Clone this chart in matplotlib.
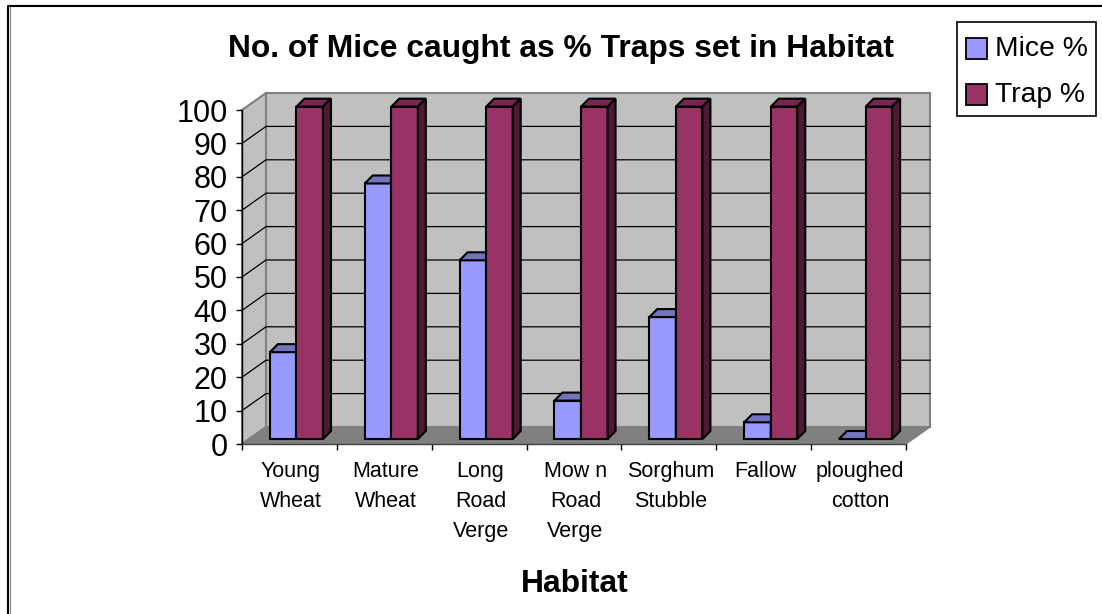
import matplotlib
matplotlib.use('Agg')
import matplotlib.pyplot as plt
from matplotlib.patches import Polygon, Rectangle
from matplotlib.transforms import IdentityTransform

plt.rcParams['font.family'] = ['Liberation Sans', 'DejaVu Sans']

habitats = ['Young\nWheat', 'Mature\nWheat', 'Long\nRoad\nVerge', 'Mow n\nRoad\nVerge',
            'Sorghum\nStubble', 'Fallow', 'ploughed\ncotton']
mice = [26, 76.5, 53.5, 11.5, 36.5, 5, 0]
trap = [99.5, 99.5, 99.5, 99.5, 99.5, 99.5, 99.5]
yticks = [0, 10, 20, 30, 40, 50, 60, 70, 80, 90, 100]

W, H = 1102, 614
BLUE, BLUE_TOP, BLUE_SIDE = '#9999ff', '#7373bf', '#4d4d80'
RED, RED_TOP, RED_SIDE = '#993366', '#732650', '#4d1a33'

fig = plt.figure(figsize=(W / 100, H / 100), dpi=100)
ax = fig.add_axes([242 / W, 1 - 444 / H, 664 / W, 334 / H])
ax.set_xlim(0, 7)
ax.set_ylim(0, 100)
ax.axis('off')


def pt(x, y, dx=0, dy=0):
    # data point pushed back in the fake 3d depth, offset in pixels
    px, py = ax.transData.transform((x, y))
    return (px + dx, py + dy)


def face(points, color, ec='black', lw=1.5, z=2):
    fig.add_artist(Polygon(points, closed=True, facecolor=color, edgecolor=ec, linewidth=lw,
                           transform=IdentityTransform(), zorder=z, joinstyle='miter'))


def bar3d(x0, x1, val, front, top, side, z):
    dx, dy = 7, 5
    d = 8
    face([pt(x0, 0, dx, dy), pt(x1, 0, dx, dy), pt(x1, val, dx, dy), pt(x0, val, dx, dy)], front, z=z)
    face([pt(x0, val, dx, dy), pt(x1, val, dx, dy), pt(x1, val, dx + d, dy + d), pt(x0, val, dx + d, dy + d)], top, z=z)
    if val > 0:
        face([pt(x1, 0, dx, dy), pt(x1, 0, dx + d, dy + d), pt(x1, val, dx + d, dy + d), pt(x1, val, dx, dy)], side, z=z)


# walls and floor
wx, wy = 24, 17
face([pt(0, 0, wx, wy), pt(7, 0, wx, wy), pt(7, 100, wx, wy), pt(0, 100, wx, wy)], '#c0c0c0', ec='#808080', lw=1.5, z=1)
face([pt(0, 0), pt(0, 0, wx, wy), pt(0, 100, wx, wy), pt(0, 100)], '#c0c0c0', ec='#808080', lw=1.5, z=1)
face([pt(0, 0), pt(7, 0), pt(7, 0, wx, wy), pt(0, 0, wx, wy)], '#808080', ec='#808080', lw=1, z=1.1)

# gridlines on both walls
for t in yticks[1:-1]:
    a, b, c = pt(0, t), pt(0, t, wx, wy), pt(7, t, wx, wy)
    fig.add_artist(plt.Line2D([a[0], b[0], c[0]], [a[1], b[1], c[1]], color='black', lw=0.9,
                              transform=IdentityTransform(), zorder=1.5))

# bars, front to back order left to right
for i in range(len(habitats)):
    bar3d(i + 0.22, i + 0.5, mice[i], BLUE, BLUE_TOP, BLUE_SIDE, 2 + i * 0.1)
    bar3d(i + 0.5, i + 0.78, trap[i], RED, RED_TOP, RED_SIDE, 2.05 + i * 0.1)

# axes lines and ticks
ax.axis('on')
ax.patch.set_visible(False)
ax.spines[['top', 'right']].set_visible(False)
ax.spines['left'].set_linewidth(1)
ax.spines['bottom'].set_linewidth(1)
ax.spines['bottom'].set_color('#404040')
ax.set_zorder(6)
ax.set_yticks(yticks)
ax.tick_params(axis='y', labelsize=22, length=4.3, width=1, pad=6)
ax.set_xticks(range(8))
ax.set_xticklabels([])
ax.tick_params(axis='x', length=4.3, width=1)
for i, lab in enumerate(habitats):
    ax.text(i + 0.515, -5.1, lab, ha='center', va='top', fontsize=15.5, linespacing=1.56)

fig.text(561.5 / W, 1 - 49 / H, 'No. of Mice caught as % Traps set in Habitat', ha='center', va='center',
         fontsize=22.9, fontweight='bold')
fig.text(575 / W, 1 - 584 / H, 'Habitat', ha='center', va='center', fontsize=22.9, fontweight='bold')

# legend box
fig.add_artist(Rectangle((957 / W, 1 - 116 / H), 139 / W, 93.5 / H, transform=fig.transFigure,
                         facecolor='white', edgecolor='black', lw=1.2))
names = ['Mice %', 'Trap %']
for name, col, yp in zip(names, [BLUE, RED], [48.5, 94.5]):
    fig.add_artist(Rectangle((966 / W, 1 - (yp + 10.5) / H), 21 / W, 21 / H, transform=fig.transFigure,
                             facecolor=col, edgecolor='black', lw=1.3))
    fig.text(995 / W, 1 - yp / H, name, ha='left', va='center', fontsize=20.3)

# chart border, only top and left fall inside the picture
fig.add_artist(plt.Line2D([9.5 / W, 9.5 / W], [0, 1 - 6 / H], color='#808080', lw=0.8, zorder=9))
fig.add_artist(plt.Line2D([8 / W, 1], [1 - 5 / H, 1 - 5 / H], color='#808080', lw=0.8, zorder=9))
fig.add_artist(plt.Line2D([8 / W, 8 / W, 1], [0, 1 - 6 / H, 1 - 6 / H], color='black', lw=1.5, zorder=10))

fig.savefig('out.png', dpi=100)
